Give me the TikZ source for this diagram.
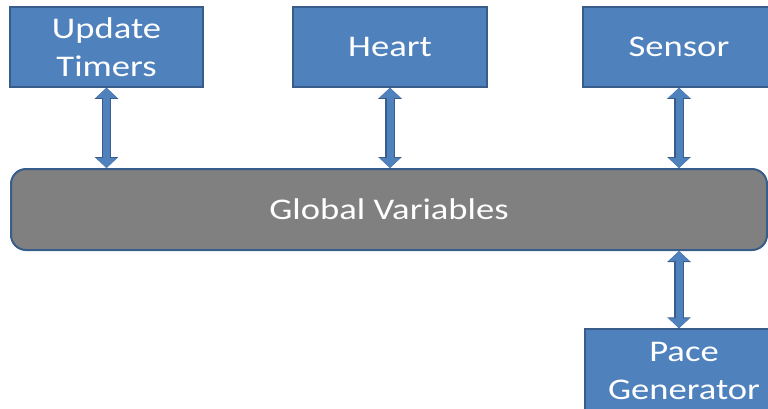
\documentclass[tikz,border=0pt]{standalone}
\usepackage{fontspec}
\newfontfamily\boxfont[FakeStretch=1.22]{Carlito}
\usetikzlibrary{arrows.meta}
\definecolor{boxblue}{HTML}{4F81BD}
\definecolor{edgeblue}{HTML}{385D8A}
\definecolor{gvgray}{HTML}{808080}
\tikzset{
  blk/.style={draw=edgeblue, line width=1.5pt, fill=boxblue, text=white,
    font=\boxfont\fontsize{30}{38}\selectfont, align=center,
    minimum height=80pt, inner sep=0pt},
  gvbox/.style={draw=edgeblue, line width=2pt, fill=gvgray, text=white,
    rounded corners=15pt, font=\boxfont\fontsize{30}{38}\selectfont,
    minimum width=756pt, minimum height=81pt, inner sep=0pt},
  conn/.style={draw=boxblue, line width=7pt,
    arrows={Triangle[length=10pt,width=20pt]-Triangle[length=10pt,width=20pt]},
    preaction={draw=edgeblue, line width=9.5pt,
      arrows={Triangle[length=11pt,width=23pt]-Triangle[length=11pt,width=23pt]}}}
}
\begin{document}
\begin{tikzpicture}[x=1pt,y=-1pt]
\useasboundingbox (0,0) rectangle (768,408);
\clip (0,0) rectangle (768,408);
\node[blk, minimum width=193pt] (ut) at (106.5,47) {Update\\Timers};
\node[blk, minimum width=194pt] (ht) at (390,47) {Heart};
\node[blk, minimum width=192pt] (sn) at (679,47) {Sensor};
\node[gvbox] (gv) at (389,209.5) {Global Variables};
\node[blk, minimum width=198pt, minimum height=84pt] (pg) at (684,371) {Pace\\Generator};
\coordinate (pgtop) at (pg.north -| sn.south);
\draw[conn] (ut.south) -- (gv.north -| ut.south);
\draw[conn] (ht.south) -- (gv.north -| ht.south);
\draw[conn] (sn.south) -- (gv.north -| sn.south);
\draw[conn] (gv.south -| sn.south) -- (pgtop);
\end{tikzpicture}
\end{document}
